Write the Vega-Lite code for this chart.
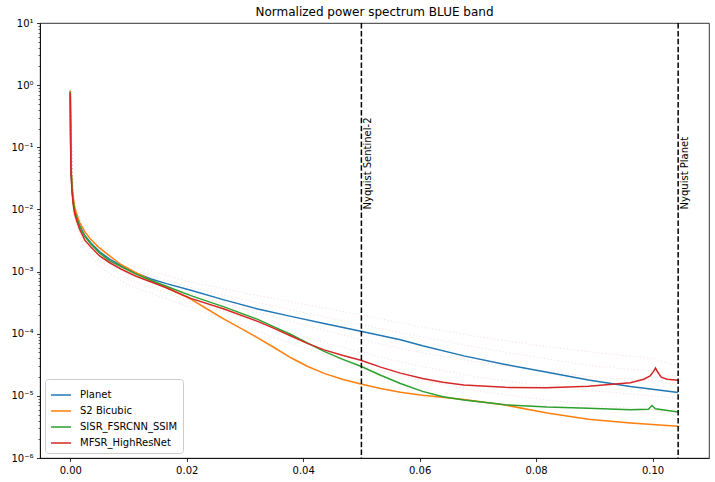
{
  "$schema": "https://vega.github.io/schema/vega-lite/v6.json",
  "width": 669,
  "height": 435,
  "autosize": {"type": "none"},
  "padding": {"left": 40, "top": 23, "right": 6, "bottom": 24},
  "background": "white",
  "config": {
    "view": {"stroke": "#000", "strokeWidth": 0.8},
    "font": "DejaVu Sans",
    "axis": {"domainColor": "#000", "domainWidth": 0.8, "tickColor": "#000", "tickWidth": 0.8, "tickSize": 3.5, "labelFont": "DejaVu Sans", "labelFontSize": 10, "labelColor": "#000", "grid": false, "labelPadding": 3.5}
  },
  "title": {"text": "Normalized power spectrum BLUE band", "fontSize": 12, "fontWeight": "normal", "font": "DejaVu Sans", "color": "#000", "offset": 6, "anchor": "middle", "dy": 7},
  "datasets": {
    "main": [
      {"s": "Planet", "x": 0, "y": 0.8}, {"s": "Planet", "x": 0.0001, "y": 0.05}, {"s": "Planet", "x": 0.0003, "y": 0.022}, {"s": "Planet", "x": 0.0005, "y": 0.014}, {"s": "Planet", "x": 0.00075, "y": 0.0098}, {"s": "Planet", "x": 0.001, "y": 0.008}, {"s": "Planet", "x": 0.0016, "y": 0.0055}, {"s": "Planet", "x": 0.0025, "y": 0.0038}, {"s": "Planet", "x": 0.0035, "y": 0.0029}, {"s": "Planet", "x": 0.005, "y": 0.0021}, {"s": "Planet", "x": 0.0067, "y": 0.0016}, {"s": "Planet", "x": 0.0087, "y": 0.00125}, {"s": "Planet", "x": 0.0112, "y": 0.00095}, {"s": "Planet", "x": 0.0139, "y": 0.00076}, {"s": "Planet", "x": 0.0165, "y": 0.00064}, {"s": "Planet", "x": 0.0207, "y": 0.0005}, {"s": "Planet", "x": 0.0264, "y": 0.00035}, {"s": "Planet", "x": 0.0322, "y": 0.00025}, {"s": "Planet", "x": 0.0379, "y": 0.00019}, {"s": "Planet", "x": 0.0436, "y": 0.000146}, {"s": "Planet", "x": 0.0499, "y": 0.00011}, {"s": "Planet", "x": 0.0567, "y": 0.00008}, {"s": "Planet", "x": 0.0605, "y": 0.000064}, {"s": "Planet", "x": 0.0676, "y": 0.000044}, {"s": "Planet", "x": 0.0747, "y": 0.000032}, {"s": "Planet", "x": 0.0819, "y": 0.000024}, {"s": "Planet", "x": 0.089, "y": 0.000018}, {"s": "Planet", "x": 0.0962, "y": 0.0000142}, {"s": "Planet", "x": 0.1044, "y": 0.0000113},
      {"s": "S2 Bicubic", "x": 0, "y": 0.82}, {"s": "S2 Bicubic", "x": 0.0001, "y": 0.055}, {"s": "S2 Bicubic", "x": 0.0003, "y": 0.025}, {"s": "S2 Bicubic", "x": 0.0005, "y": 0.016}, {"s": "S2 Bicubic", "x": 0.00075, "y": 0.011}, {"s": "S2 Bicubic", "x": 0.001, "y": 0.009}, {"s": "S2 Bicubic", "x": 0.0016, "y": 0.0062}, {"s": "S2 Bicubic", "x": 0.0025, "y": 0.0044}, {"s": "S2 Bicubic", "x": 0.0035, "y": 0.0033}, {"s": "S2 Bicubic", "x": 0.005, "y": 0.0024}, {"s": "S2 Bicubic", "x": 0.0067, "y": 0.0018}, {"s": "S2 Bicubic", "x": 0.0087, "y": 0.0013}, {"s": "S2 Bicubic", "x": 0.0112, "y": 0.00097}, {"s": "S2 Bicubic", "x": 0.0139, "y": 0.00072}, {"s": "S2 Bicubic", "x": 0.0165, "y": 0.00055}, {"s": "S2 Bicubic", "x": 0.0185, "y": 0.00045}, {"s": "S2 Bicubic", "x": 0.0207, "y": 0.00036}, {"s": "S2 Bicubic", "x": 0.0235, "y": 0.00025}, {"s": "S2 Bicubic", "x": 0.0264, "y": 0.000172}, {"s": "S2 Bicubic", "x": 0.0293, "y": 0.000122}, {"s": "S2 Bicubic", "x": 0.0322, "y": 0.000086}, {"s": "S2 Bicubic", "x": 0.035, "y": 0.00006}, {"s": "S2 Bicubic", "x": 0.0379, "y": 0.000041}, {"s": "S2 Bicubic", "x": 0.0407, "y": 0.000030}, {"s": "S2 Bicubic", "x": 0.0436, "y": 0.000023}, {"s": "S2 Bicubic", "x": 0.0467, "y": 0.0000185}, {"s": "S2 Bicubic", "x": 0.0499, "y": 0.0000155}, {"s": "S2 Bicubic", "x": 0.0533, "y": 0.0000131}, {"s": "S2 Bicubic", "x": 0.0567, "y": 0.0000114}, {"s": "S2 Bicubic", "x": 0.0605, "y": 0.0000102}, {"s": "S2 Bicubic", "x": 0.0676, "y": 0.0000087}, {"s": "S2 Bicubic", "x": 0.0747, "y": 0.0000071}, {"s": "S2 Bicubic", "x": 0.0819, "y": 0.0000053}, {"s": "S2 Bicubic", "x": 0.089, "y": 0.0000042}, {"s": "S2 Bicubic", "x": 0.0962, "y": 0.00000366}, {"s": "S2 Bicubic", "x": 0.1044, "y": 0.00000324},
      {"s": "SISR_FSRCNN_SSIM", "x": 0, "y": 0.78}, {"s": "SISR_FSRCNN_SSIM", "x": 0.0001, "y": 0.048}, {"s": "SISR_FSRCNN_SSIM", "x": 0.0003, "y": 0.021}, {"s": "SISR_FSRCNN_SSIM", "x": 0.0005, "y": 0.0135}, {"s": "SISR_FSRCNN_SSIM", "x": 0.00075, "y": 0.0095}, {"s": "SISR_FSRCNN_SSIM", "x": 0.001, "y": 0.0078}, {"s": "SISR_FSRCNN_SSIM", "x": 0.0016, "y": 0.0053}, {"s": "SISR_FSRCNN_SSIM", "x": 0.0025, "y": 0.0037}, {"s": "SISR_FSRCNN_SSIM", "x": 0.0035, "y": 0.0028}, {"s": "SISR_FSRCNN_SSIM", "x": 0.005, "y": 0.002}, {"s": "SISR_FSRCNN_SSIM", "x": 0.0067, "y": 0.0015}, {"s": "SISR_FSRCNN_SSIM", "x": 0.0087, "y": 0.0012}, {"s": "SISR_FSRCNN_SSIM", "x": 0.0112, "y": 0.00092}, {"s": "SISR_FSRCNN_SSIM", "x": 0.0139, "y": 0.00072}, {"s": "SISR_FSRCNN_SSIM", "x": 0.0165, "y": 0.00058}, {"s": "SISR_FSRCNN_SSIM", "x": 0.0207, "y": 0.00041}, {"s": "SISR_FSRCNN_SSIM", "x": 0.0264, "y": 0.00027}, {"s": "SISR_FSRCNN_SSIM", "x": 0.0322, "y": 0.00017}, {"s": "SISR_FSRCNN_SSIM", "x": 0.035, "y": 0.000129}, {"s": "SISR_FSRCNN_SSIM", "x": 0.0379, "y": 0.000097}, {"s": "SISR_FSRCNN_SSIM", "x": 0.0407, "y": 0.000071}, {"s": "SISR_FSRCNN_SSIM", "x": 0.0436, "y": 0.000052}, {"s": "SISR_FSRCNN_SSIM", "x": 0.0467, "y": 0.000039}, {"s": "SISR_FSRCNN_SSIM", "x": 0.0499, "y": 0.00003}, {"s": "SISR_FSRCNN_SSIM", "x": 0.0533, "y": 0.0000215}, {"s": "SISR_FSRCNN_SSIM", "x": 0.0567, "y": 0.0000158}, {"s": "SISR_FSRCNN_SSIM", "x": 0.0605, "y": 0.0000118}, {"s": "SISR_FSRCNN_SSIM", "x": 0.064, "y": 0.0000097}, {"s": "SISR_FSRCNN_SSIM", "x": 0.0676, "y": 0.0000086}, {"s": "SISR_FSRCNN_SSIM", "x": 0.0747, "y": 0.0000072}, {"s": "SISR_FSRCNN_SSIM", "x": 0.0819, "y": 0.0000066}, {"s": "SISR_FSRCNN_SSIM", "x": 0.089, "y": 0.0000063}, {"s": "SISR_FSRCNN_SSIM", "x": 0.0962, "y": 0.000006}, {"s": "SISR_FSRCNN_SSIM", "x": 0.0993, "y": 0.0000061}, {"s": "SISR_FSRCNN_SSIM", "x": 0.0999, "y": 0.000007}, {"s": "SISR_FSRCNN_SSIM", "x": 0.1005, "y": 0.0000062}, {"s": "SISR_FSRCNN_SSIM", "x": 0.1044, "y": 0.0000055},
      {"s": "MFSR_HighResNet", "x": 0, "y": 0.75}, {"s": "MFSR_HighResNet", "x": 0.0001, "y": 0.045}, {"s": "MFSR_HighResNet", "x": 0.0003, "y": 0.019}, {"s": "MFSR_HighResNet", "x": 0.0005, "y": 0.012}, {"s": "MFSR_HighResNet", "x": 0.00075, "y": 0.0085}, {"s": "MFSR_HighResNet", "x": 0.001, "y": 0.007}, {"s": "MFSR_HighResNet", "x": 0.0016, "y": 0.0048}, {"s": "MFSR_HighResNet", "x": 0.0025, "y": 0.0032}, {"s": "MFSR_HighResNet", "x": 0.0035, "y": 0.0025}, {"s": "MFSR_HighResNet", "x": 0.005, "y": 0.0018}, {"s": "MFSR_HighResNet", "x": 0.0067, "y": 0.0014}, {"s": "MFSR_HighResNet", "x": 0.0087, "y": 0.0011}, {"s": "MFSR_HighResNet", "x": 0.0112, "y": 0.00085}, {"s": "MFSR_HighResNet", "x": 0.0139, "y": 0.00068}, {"s": "MFSR_HighResNet", "x": 0.0165, "y": 0.00055}, {"s": "MFSR_HighResNet", "x": 0.0207, "y": 0.00037}, {"s": "MFSR_HighResNet", "x": 0.0264, "y": 0.00025}, {"s": "MFSR_HighResNet", "x": 0.0322, "y": 0.000158}, {"s": "MFSR_HighResNet", "x": 0.035, "y": 0.000122}, {"s": "MFSR_HighResNet", "x": 0.0379, "y": 0.000092}, {"s": "MFSR_HighResNet", "x": 0.0407, "y": 0.00007}, {"s": "MFSR_HighResNet", "x": 0.0436, "y": 0.000055}, {"s": "MFSR_HighResNet", "x": 0.0467, "y": 0.000045}, {"s": "MFSR_HighResNet", "x": 0.0499, "y": 0.0000375}, {"s": "MFSR_HighResNet", "x": 0.0533, "y": 0.000029}, {"s": "MFSR_HighResNet", "x": 0.0567, "y": 0.0000232}, {"s": "MFSR_HighResNet", "x": 0.0605, "y": 0.000019}, {"s": "MFSR_HighResNet", "x": 0.064, "y": 0.0000165}, {"s": "MFSR_HighResNet", "x": 0.0676, "y": 0.0000149}, {"s": "MFSR_HighResNet", "x": 0.0747, "y": 0.0000137}, {"s": "MFSR_HighResNet", "x": 0.0819, "y": 0.0000135}, {"s": "MFSR_HighResNet", "x": 0.089, "y": 0.0000143}, {"s": "MFSR_HighResNet", "x": 0.0962, "y": 0.0000162}, {"s": "MFSR_HighResNet", "x": 0.0985, "y": 0.0000185}, {"s": "MFSR_HighResNet", "x": 0.0996, "y": 0.000021}, {"s": "MFSR_HighResNet", "x": 0.1002, "y": 0.000025}, {"s": "MFSR_HighResNet", "x": 0.1005, "y": 0.000028}, {"s": "MFSR_HighResNet", "x": 0.1009, "y": 0.000024}, {"s": "MFSR_HighResNet", "x": 0.1015, "y": 0.00002}, {"s": "MFSR_HighResNet", "x": 0.1025, "y": 0.0000185}, {"s": "MFSR_HighResNet", "x": 0.1044, "y": 0.0000179}
    ],
    "faint": [
      {"id": 1, "x": 0, "y": 0.8}, {"id": 1, "x": 0.0005, "y": 0.018}, {"id": 1, "x": 0.002, "y": 0.0055}, {"id": 1, "x": 0.005, "y": 0.0026}, {"id": 1, "x": 0.01, "y": 0.0013}, {"id": 1, "x": 0.02, "y": 0.0007}, {"id": 1, "x": 0.03, "y": 0.00045}, {"id": 1, "x": 0.04, "y": 0.0003}, {"id": 1, "x": 0.05, "y": 0.0002}, {"id": 1, "x": 0.06, "y": 0.00013}, {"id": 1, "x": 0.07, "y": 0.00009}, {"id": 1, "x": 0.08, "y": 0.000065}, {"id": 1, "x": 0.09, "y": 0.00005}, {"id": 1, "x": 0.1, "y": 0.00004}, {"id": 1, "x": 0.1044, "y": 0.00003},
      {"id": 2, "x": 0, "y": 0.8}, {"id": 2, "x": 0.0005, "y": 0.015}, {"id": 2, "x": 0.002, "y": 0.0048}, {"id": 2, "x": 0.005, "y": 0.0022}, {"id": 2, "x": 0.01, "y": 0.0011}, {"id": 2, "x": 0.02, "y": 0.00058}, {"id": 2, "x": 0.03, "y": 0.00035}, {"id": 2, "x": 0.04, "y": 0.00022}, {"id": 2, "x": 0.05, "y": 0.00014}, {"id": 2, "x": 0.06, "y": 0.00009}, {"id": 2, "x": 0.07, "y": 0.00006}, {"id": 2, "x": 0.08, "y": 0.000042}, {"id": 2, "x": 0.09, "y": 0.00003}, {"id": 2, "x": 0.1, "y": 0.000025}, {"id": 2, "x": 0.1044, "y": 0.00002},
      {"id": 3, "x": 0, "y": 0.7}, {"id": 3, "x": 0.0005, "y": 0.012}, {"id": 3, "x": 0.002, "y": 0.004}, {"id": 3, "x": 0.005, "y": 0.0018}, {"id": 3, "x": 0.01, "y": 0.0009}, {"id": 3, "x": 0.02, "y": 0.00045}, {"id": 3, "x": 0.03, "y": 0.00025}, {"id": 3, "x": 0.04, "y": 0.00014}, {"id": 3, "x": 0.05, "y": 0.00008}, {"id": 3, "x": 0.06, "y": 0.00005}, {"id": 3, "x": 0.07, "y": 0.000035}, {"id": 3, "x": 0.08, "y": 0.000026}, {"id": 3, "x": 0.09, "y": 0.00002}, {"id": 3, "x": 0.1, "y": 0.000018}, {"id": 3, "x": 0.1044, "y": 0.000015},
      {"id": 4, "x": 0, "y": 0.7}, {"id": 4, "x": 0.0005, "y": 0.01}, {"id": 4, "x": 0.002, "y": 0.0033}, {"id": 4, "x": 0.005, "y": 0.0015}, {"id": 4, "x": 0.01, "y": 0.00075}, {"id": 4, "x": 0.02, "y": 0.00035}, {"id": 4, "x": 0.03, "y": 0.00018}, {"id": 4, "x": 0.04, "y": 0.00009}, {"id": 4, "x": 0.05, "y": 0.00005}, {"id": 4, "x": 0.06, "y": 0.00003}, {"id": 4, "x": 0.07, "y": 0.00002}, {"id": 4, "x": 0.08, "y": 0.000015}, {"id": 4, "x": 0.09, "y": 0.000012}, {"id": 4, "x": 0.1, "y": 0.00001}, {"id": 4, "x": 0.1044, "y": 0.000009},
      {"id": 5, "x": 0, "y": 0.6}, {"id": 5, "x": 0.0005, "y": 0.009}, {"id": 5, "x": 0.002, "y": 0.0028}, {"id": 5, "x": 0.005, "y": 0.0012}, {"id": 5, "x": 0.01, "y": 0.0006}, {"id": 5, "x": 0.02, "y": 0.00028}, {"id": 5, "x": 0.03, "y": 0.00013}, {"id": 5, "x": 0.04, "y": 0.00006}, {"id": 5, "x": 0.05, "y": 0.00003}, {"id": 5, "x": 0.06, "y": 0.000018}, {"id": 5, "x": 0.07, "y": 0.000012}, {"id": 5, "x": 0.08, "y": 0.000009}, {"id": 5, "x": 0.09, "y": 0.000007}, {"id": 5, "x": 0.1, "y": 0.000006}, {"id": 5, "x": 0.1044, "y": 0.000005}
    ],
    "nyq": [
      {"x": 0.05, "label": "Nyquist Sentinel-2"},
      {"x": 0.1044, "label": "Nyquist Planet"}
    ]
  },
  "layer": [
    {
      "data": {"name": "faint"},
      "mark": {"type": "line", "color": "#d62728", "opacity": 0.18, "strokeWidth": 1, "strokeDash": [1, 2.5]},
      "encoding": {
        "x": {"field": "x", "type": "quantitative", "scale": {"domain": [-0.0052, 0.1097], "nice": false, "zero": false}},
        "y": {"field": "y", "type": "quantitative", "scale": {"type": "log", "domain": [0.000001, 10], "nice": false}},
        "detail": {"field": "id", "type": "nominal"}
      }
    },
    {
      "data": {"name": "main"},
      "mark": {"type": "line", "strokeWidth": 1.5},
      "encoding": {
        "x": {"field": "x", "type": "quantitative", "scale": {"domain": [-0.0052, 0.1097], "nice": false, "zero": false},
          "axis": {"title": null, "values": [0, 0.02, 0.04, 0.06, 0.08, 0.1], "format": ".2f"}},
        "y": {"field": "y", "type": "quantitative", "scale": {"type": "log", "domain": [0.000001, 10], "nice": false},
          "axis": {"title": null, "labelOverlap": false, "labelFlush": false,
            "values": [0.000001, 0.000002, 0.000003, 0.000004, 0.000005, 0.000006, 0.000007, 0.000008, 0.000009, 0.00001, 0.00002, 0.00003, 0.00004, 0.00005, 0.00006, 0.00007, 0.00008, 0.00009, 0.0001, 0.0002, 0.0003, 0.0004, 0.0005, 0.0006, 0.0007, 0.0008, 0.0009, 0.001, 0.002, 0.003, 0.004, 0.005, 0.006, 0.007, 0.008, 0.009, 0.01, 0.02, 0.03, 0.04, 0.05, 0.06, 0.07, 0.08, 0.09, 0.1, 0.2, 0.3, 0.4, 0.5, 0.6, 0.7, 0.8, 0.9, 1, 2, 3, 4, 5, 6, 7, 8, 9, 10],
            "labelExpr": "abs(log(datum.value)/LN10 - round(log(datum.value)/LN10)) < 0.01 ? '10' + ['⁻⁶','⁻⁵','⁻⁴','⁻³','⁻²','⁻¹','⁰','¹'][round(log(datum.value)/LN10)+6] : ''",
            "tickSize": {"condition": {"test": "abs(log(datum.value)/LN10 - round(log(datum.value)/LN10)) < 0.01", "value": 3.5}, "value": 2},
            "tickWidth": {"condition": {"test": "abs(log(datum.value)/LN10 - round(log(datum.value)/LN10)) < 0.01", "value": 0.8}, "value": 0.6}
          }},
        "color": {"field": "s", "type": "nominal",
          "scale": {"domain": ["Planet", "S2 Bicubic", "SISR_FSRCNN_SSIM", "MFSR_HighResNet"], "range": ["#1f77b4", "#ff7f0e", "#2ca02c", "#d62728"]},
          "legend": {"title": null, "orient": "bottom-left", "offset": 5, "symbolType": "stroke", "symbolSize": 400, "symbolStrokeWidth": 1.5, "labelFontSize": 10, "labelFont": "DejaVu Sans", "labelColor": "#000", "strokeColor": "#cccccc", "fillColor": "white", "padding": 5, "cornerRadius": 3, "rowPadding": -4, "labelOffset": 8}}
      }
    },
    {
      "data": {"name": "nyq"},
      "mark": {"type": "rule", "color": "#000", "strokeWidth": 1.5, "strokeDash": [5.5, 2.4]},
      "encoding": {
        "x": {"field": "x", "type": "quantitative"}
      }
    },
    {
      "data": {"name": "nyq"},
      "mark": {"type": "text", "angle": 270, "align": "left", "baseline": "top", "dy": 2, "fontSize": 10, "font": "DejaVu Sans", "color": "#000"},
      "encoding": {
        "x": {"field": "x", "type": "quantitative"},
        "y": {"datum": 0.01, "type": "quantitative"},
        "text": {"field": "label"}
      }
    }
  ]
}
